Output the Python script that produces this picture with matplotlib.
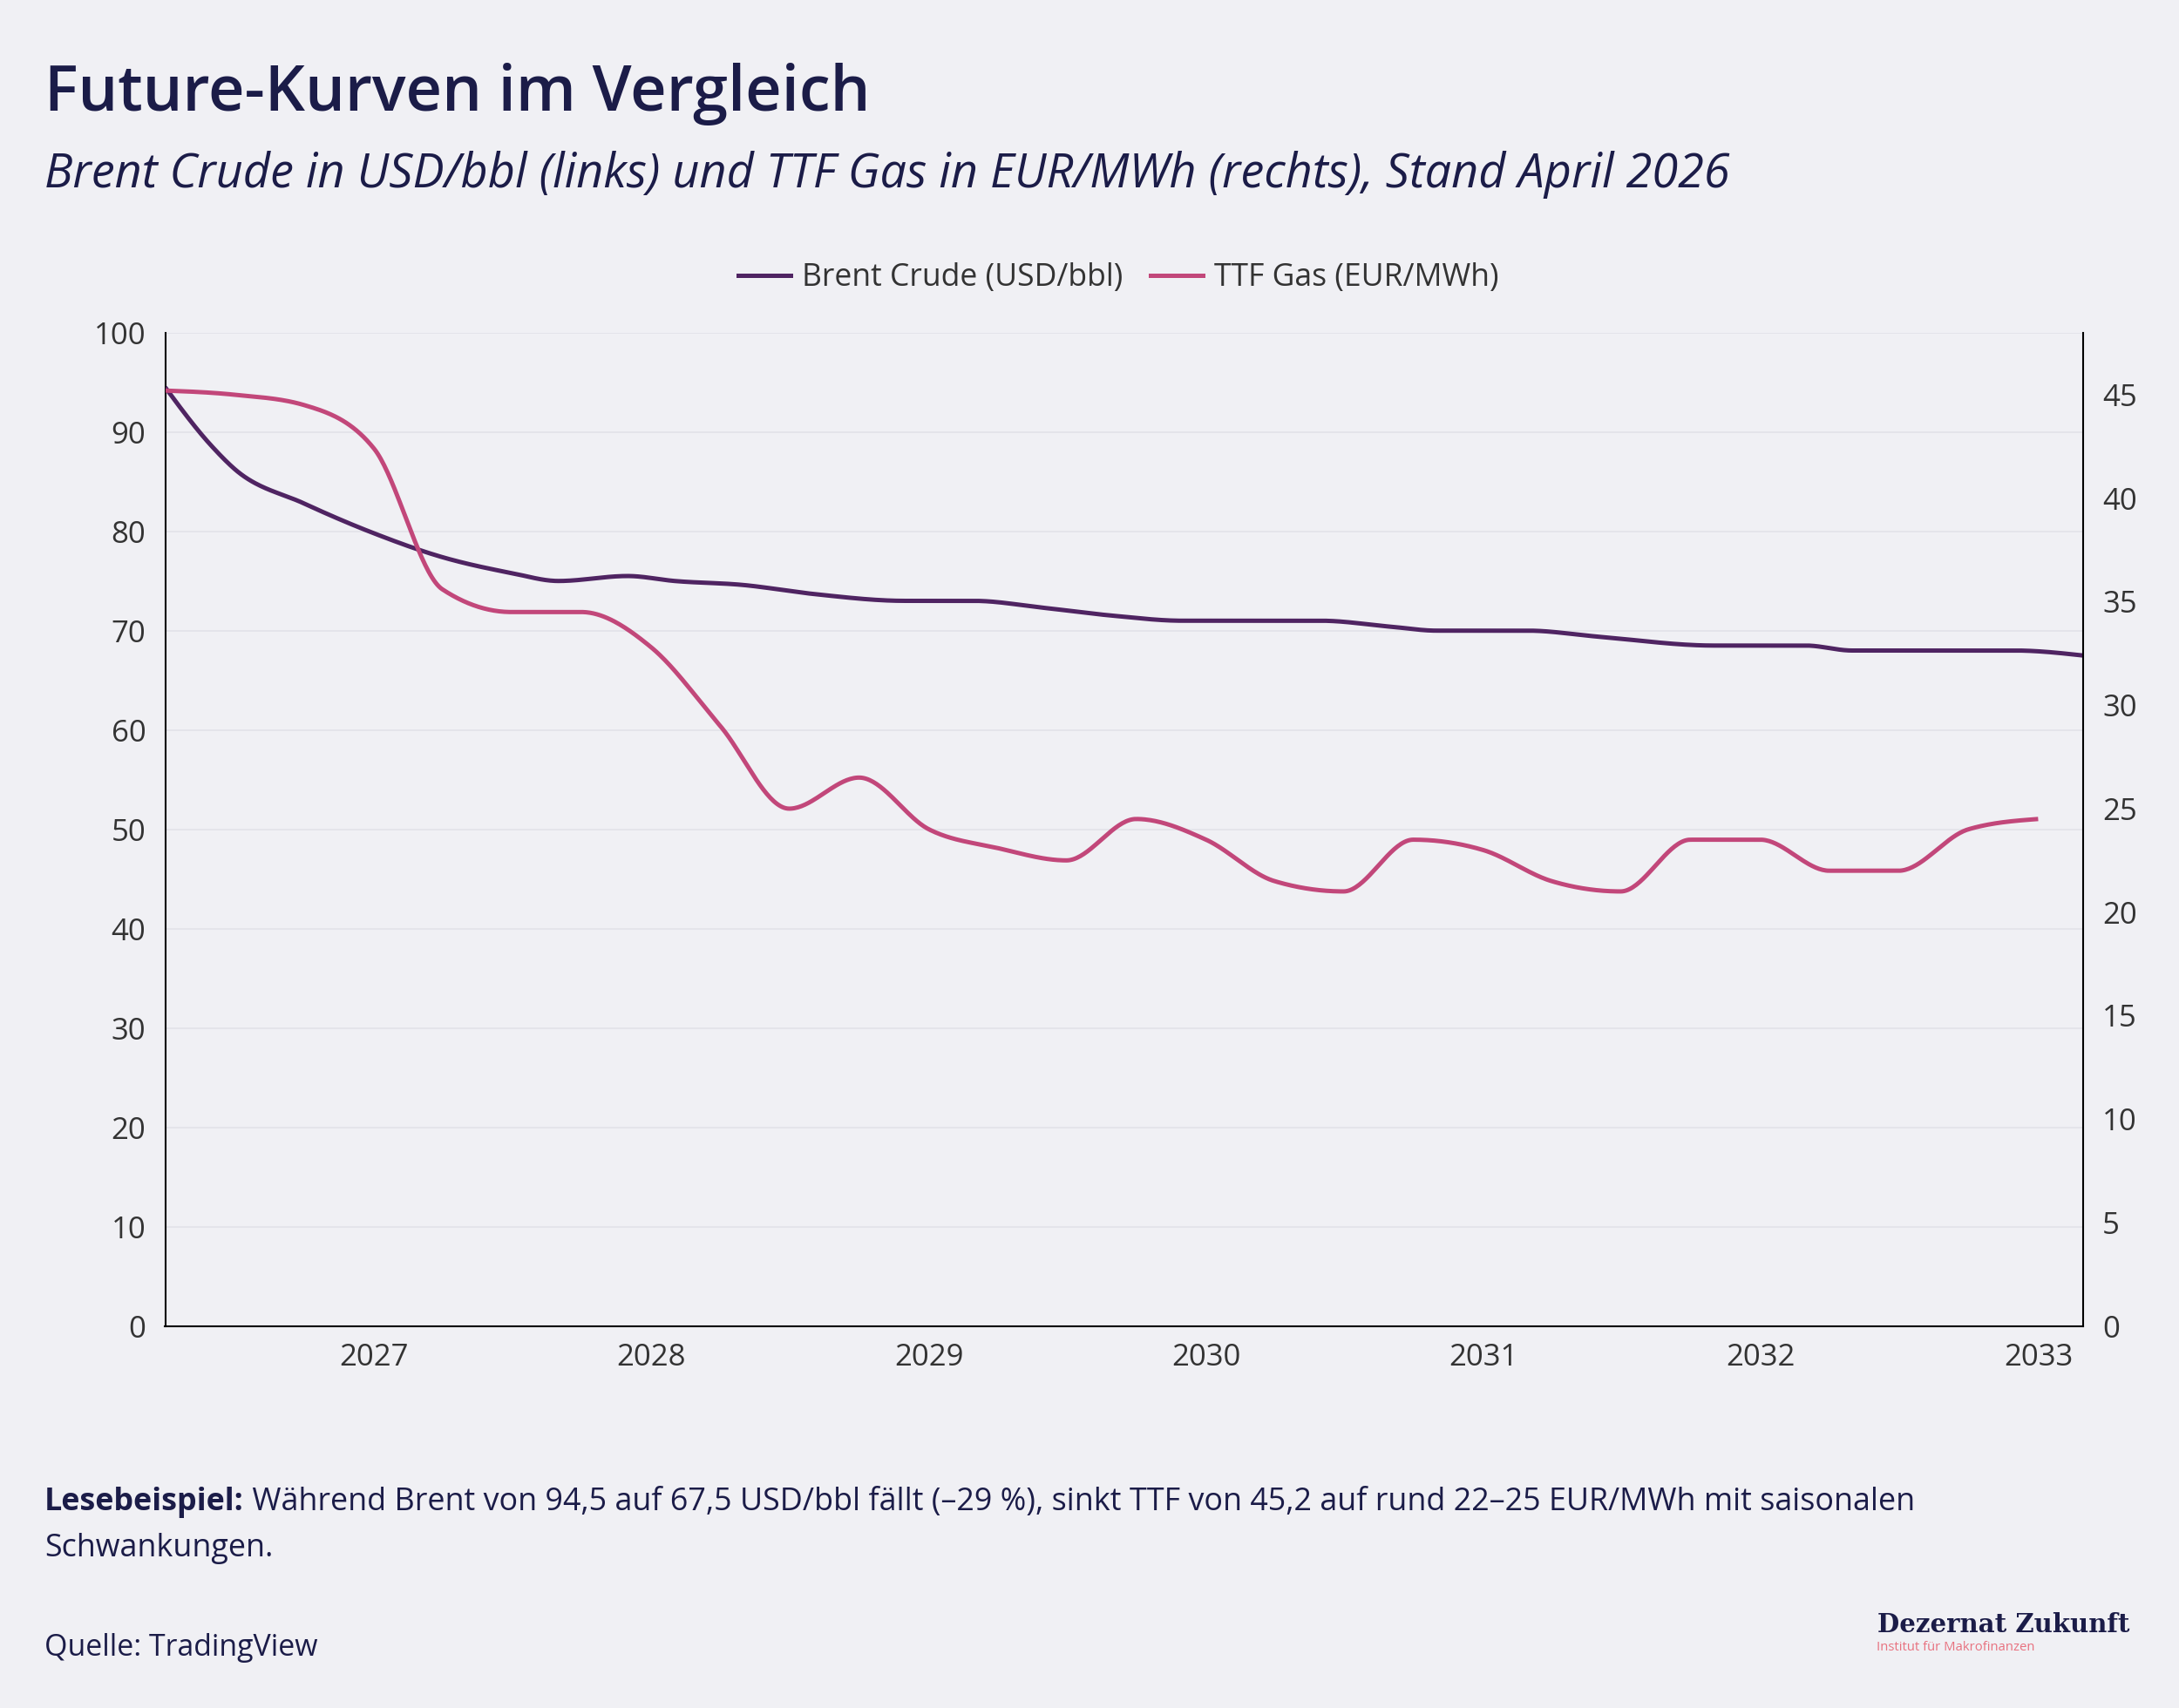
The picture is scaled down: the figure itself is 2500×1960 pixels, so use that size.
import numpy as np
import pandas as pd
import matplotlib
matplotlib.use("Agg")
import matplotlib.pyplot as plt
import matplotlib.dates as mdates
from matplotlib.lines import Line2D

# ---------------- data ----------------
brent_dates = ["2026-04", "2026-06", "2026-07", "2026-10", "2027-01", "2027-04",
               "2027-07", "2027-09", "2027-12", "2028-02", "2028-05", "2028-08",
               "2028-12", "2029-03", "2029-06", "2029-09", "2029-12", "2030-06",
               "2030-09", "2030-11", "2031-03", "2031-06", "2031-11", "2032-03",
               "2032-05", "2032-12", "2033-03"]
brent_values = [94.5, 88.6, 86.3, 82.8, 79.8, 77.4,
                75.8, 75.0, 75.5, 75.0, 74.6, 73.7,
                73.0, 73.0, 72.3, 71.5, 71.0, 71.0,
                70.4, 70.0, 70.0, 69.4, 68.5, 68.5,
                68.0, 68.0, 67.5]

ttf_dates = ["2026-04", "2026-07", "2026-10", "2027-01", "2027-04", "2027-07",
             "2027-10", "2028-01", "2028-04", "2028-07", "2028-10", "2029-01",
             "2029-04", "2029-07", "2029-10", "2030-01", "2030-04", "2030-07",
             "2030-10", "2031-01", "2031-04", "2031-07", "2031-10", "2032-01",
             "2032-04", "2032-07", "2032-10", "2033-01"]
ttf_values = [45.2, 45.0, 44.5, 42.4, 35.6, 34.5,
              34.5, 32.8, 29.0, 25.0, 26.5, 24.0,
              23.1, 22.5, 24.5, 23.5, 21.5, 21.0,
              23.5, 23.0, 21.5, 21.0, 23.5, 23.5,
              22.0, 22.0, 24.0, 24.5]

left_ticks = list(range(0, 101, 10))
right_ticks = list(range(0, 46, 5))
year_ticks = ["2027", "2028", "2029", "2030", "2031", "2032", "2033"]

title = "Future-Kurven im Vergleich"
subtitle = "Brent Crude in USD/bbl (links) und TTF Gas in EUR/MWh (rechts), Stand April 2026"
label_brent = "Brent Crude (USD/bbl)"
label_ttf = "TTF Gas (EUR/MWh)"
note_bold = "Lesebeispiel:"
note_rest = (" Während Brent von 94,5 auf 67,5 USD/bbl fällt (–29 %), sinkt TTF von 45,2 "
             "auf rund 22–25 EUR/MWh mit saisonalen")
note_line2 = "Schwankungen."
source = "Quelle: TradingView"
logo_main = "Dezernat Zukunft"
logo_sub = "Institut für Makrofinanzen"

# ---------------- style ----------------
BG = "#F0F0F4"
NAVY = "#1B1C48"
TXT = "#333333"
C_BRENT = "#4F2462"
C_TTF = "#C2477A"
GRID = "#E4E4EA"

plt.rcParams["font.family"] = ["Open Sans", "DejaVu Sans"]


def monotone_curve(x, y, n=40):
    """d3-style monotoneX cubic Hermite path through the given points."""
    x = np.asarray(x, float)
    y = np.asarray(y, float)
    k = len(x)
    h = np.diff(x)
    s = np.diff(y) / h
    t = np.zeros(k)
    for i in range(1, k - 1):
        s0, s1 = s[i - 1], s[i]
        h0, h1 = h[i - 1], h[i]
        p = (s0 * h1 + s1 * h0) / (h0 + h1)
        t[i] = (np.sign(s0) + np.sign(s1)) * min(abs(s0), abs(s1), 0.5 * abs(p))
    t[0] = (3 * s[0] - t[1]) / 2
    t[-1] = (3 * s[-1] - t[-2]) / 2
    xs, ys = [], []
    for i in range(k - 1):
        u = np.linspace(0, 1, n, endpoint=(i == k - 2))
        hh = h[i]
        h00 = 2 * u**3 - 3 * u**2 + 1
        h10 = u**3 - 2 * u**2 + u
        h01 = -2 * u**3 + 3 * u**2
        h11 = u**3 - u**2
        xs.append(x[i] + u * hh)
        ys.append(h00 * y[i] + h10 * hh * t[i] + h01 * y[i + 1] + h11 * hh * t[i + 1])
    return np.concatenate(xs), np.concatenate(ys)


bx = mdates.date2num(pd.to_datetime(brent_dates).to_pydatetime())
tx = mdates.date2num(pd.to_datetime(ttf_dates).to_pydatetime())

W, H = 2500, 1960
fig = plt.figure(figsize=(W / 100, H / 100), dpi=100, facecolor=BG)

ax_l, ax_r, ax_t, ax_b = 189.5, 2389.8, 381.7, 1521.7
ax = fig.add_axes([ax_l / W, 1 - ax_b / H, (ax_r - ax_l) / W, (ax_b - ax_t) / H])
ax.set_facecolor(BG)
ax2 = ax.twinx()

# gridlines
ax.set_ylim(0, 100)
ax.set_yticks(left_ticks)
ax.grid(axis="y", color=GRID, linewidth=1.4, zorder=0)
ax.grid(axis="x", visible=False)
ax.set_axisbelow(True)

ax2.set_ylim(0, 48)
ax2.set_yticks(right_ticks)

xb, yb = monotone_curve(bx, brent_values)
xt, yt = monotone_curve(tx, ttf_values)
ax.plot(xb, yb, color=C_BRENT, linewidth=3.6, solid_capstyle="butt", zorder=3)
ax2.plot(xt, yt, color=C_TTF, linewidth=3.6, solid_capstyle="butt", zorder=3)

ax.set_xlim(bx[0], bx[-1])
ax.set_xticks(mdates.date2num(pd.to_datetime([y + "-01-01" for y in year_ticks]).to_pydatetime()))
ax.set_xticklabels(year_ticks)

for a in (ax, ax2):
    a.tick_params(axis="both", length=0, labelsize=25, colors=TXT)
    for sp in a.spines.values():
        sp.set_visible(False)
ax.tick_params(axis="y", pad=16)
ax.tick_params(axis="x", pad=14)
ax2.tick_params(axis="y", pad=16)
ax.spines["left"].set_visible(True)
ax.spines["bottom"].set_visible(True)
ax2.spines["right"].set_visible(True)
for sp in (ax.spines["left"], ax.spines["bottom"], ax2.spines["right"]):
    sp.set_color("#000000")
    sp.set_linewidth(1.5)

# legend
handles = [Line2D([], [], color=C_BRENT, linewidth=3.6),
           Line2D([], [], color=C_TTF, linewidth=3.6)]
leg = fig.legend(handles, [label_brent, label_ttf], loc="center",
                 bbox_to_anchor=(1283 / W, 1 - 319 / H), ncol=2, frameon=False,
                 fontsize=25.6, handlelength=1.7, handletextpad=0.35,
                 columnspacing=0.9, labelcolor=TXT)

# titles
fig.text(51 / W, 1 - 127 / H, title, fontsize=52, fontweight="semibold", color=NAVY,
         va="baseline", ha="left")
fig.text(51 / W, 1 - 215 / H, subtitle, fontsize=38.85, fontstyle="italic", color=NAVY,
         va="baseline", ha="left")

# footnote
FS = 25.8
t1 = fig.text(51 / W, 1 - 1733 / H, note_bold, fontsize=FS, fontweight="bold",
              color=NAVY, va="baseline", ha="left")
fig.canvas.draw()
bb = t1.get_window_extent(renderer=fig.canvas.get_renderer())
fig.text(bb.x1 / W, 1 - 1733 / H, note_rest, fontsize=FS, color=NAVY,
         va="baseline", ha="left")
fig.text(51 / W, 1 - 1786 / H, note_line2, fontsize=FS, color=NAVY,
         va="baseline", ha="left")
fig.text(51 / W, 1 - 1900 / H, source, fontsize=24.4, color=NAVY,
         va="baseline", ha="left")

# logo
fig.text(2443 / W, 1 - 1873 / H, logo_main, fontsize=21, fontweight="bold",
         family="DejaVu Serif", color=NAVY, va="baseline", ha="right")
fig.text(2153 / W, 1 - 1894 / H, logo_sub, fontsize=10.7, color="#E8717F",
         va="baseline", ha="left")

fig.savefig("out.png", dpi=100, facecolor=BG)
